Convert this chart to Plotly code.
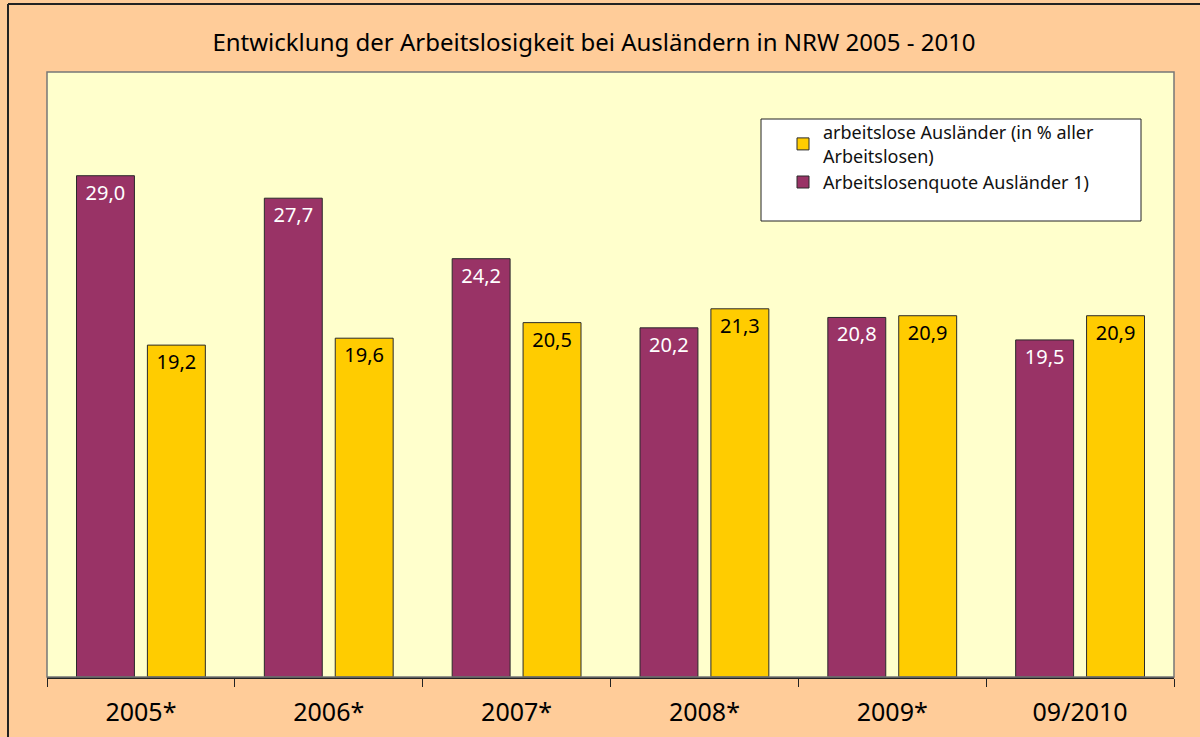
import plotly.graph_objects as go

categories = ["2005*", "2006*", "2007*", "2008*", "2009*", "09/2010"]
quote_auslaender = [29.0, 27.7, 24.2, 20.2, 20.8, 19.5]
anteil_auslaender = [19.2, 19.6, 20.5, 21.3, 20.9, 20.9]
name_quote = "Arbeitslosenquote Ausländer 1)"
name_anteil = "arbeitslose Ausländer (in % aller<br>Arbeitslosen)"
title_text = "Entwicklung der Arbeitslosigkeit bei Ausländern in NRW 2005 - 2010"

FONT = "Noto Sans"

fig = go.Figure()
fig.add_trace(go.Bar(
    x=categories, y=quote_auslaender, name=name_quote,
    marker=dict(color="#993366", line=dict(color="#2a2a2a", width=1)),
    texttemplate="%{y:.1f}", textposition="inside", insidetextanchor="end",
    textangle=0, constraintext="none",
    textfont=dict(color="white", size=20, family=FONT),
))
fig.add_trace(go.Bar(
    x=categories, y=anteil_auslaender, name=name_anteil,
    marker=dict(color="#FFCC00", line=dict(color="#2a2a2a", width=1)),
    texttemplate="%{y:.1f}", textposition="inside", insidetextanchor="end",
    textangle=0, constraintext="none",
    textfont=dict(color="black", size=20, family=FONT),
))

# legend box drawn behind the legend
fig.add_shape(type="rect", xref="paper", yref="paper",
              x0=(761 - 47) / 1127, x1=(1141 - 47) / 1127,
              y0=(677 - 221) / 605, y1=(677 - 119) / 605,
              line=dict(color="#222222", width=1), fillcolor="white", layer="below")
# plot area border
fig.add_shape(type="rect", xref="paper", yref="paper", x0=0, x1=1, y0=0, y1=1,
              line=dict(color="#777777", width=1.5), layer="above")
# outer chart border (left and top)
fig.add_shape(type="line", xref="paper", yref="paper",
              x0=(8 - 47) / 1127, x1=(8 - 47) / 1127, y0=-0.2, y1=(677 - 4) / 605,
              line=dict(color="#222222", width=2))
fig.add_shape(type="line", xref="paper", yref="paper",
              x0=(8 - 47) / 1127, x1=1.1, y0=(677 - 4) / 605, y1=(677 - 4) / 605,
              line=dict(color="#222222", width=2))

fig.update_layout(
    width=1200, height=737,
    margin=dict(l=47, r=26, t=72, b=60),
    paper_bgcolor="#FFCC99",
    plot_bgcolor="#FFFFCC",
    separators=",.",
    barmode="group",
    bargap=0.245,
    bargroupgap=0.183,
    showlegend=True,
    title=dict(text=title_text, x=594 / 1200, xref="container", xanchor="center",
               y=1 - 43 / 737, yref="container", yanchor="middle",
               font=dict(family=FONT, size=24, color="black")),
    legend=dict(x=(783 - 47) / 1127, y=(677 - 114) / 605, xanchor="left", yanchor="top",
                bgcolor="rgba(0,0,0,0)", borderwidth=0, traceorder="reversed",
                font=dict(family=FONT, size=18, color="#111111"),
                tracegroupgap=4),
    xaxis=dict(showline=True, linecolor="#222222", linewidth=1.5,
               ticks="outside", ticklen=8, tickcolor="#222222", tickson="boundaries",
               tickfont=dict(family=FONT, size=25, color="black"),
               ticklabelstandoff=12, automargin=False,
               showgrid=False),
    yaxis=dict(range=[0, 35], showticklabels=False, showgrid=False, zeroline=False,
               showline=False, ticks="", automargin=False),
    font=dict(family=FONT),
)

fig.write_html("out.html", config={"displayModeBar": False},
               post_script="document.body.style.margin='0';")
